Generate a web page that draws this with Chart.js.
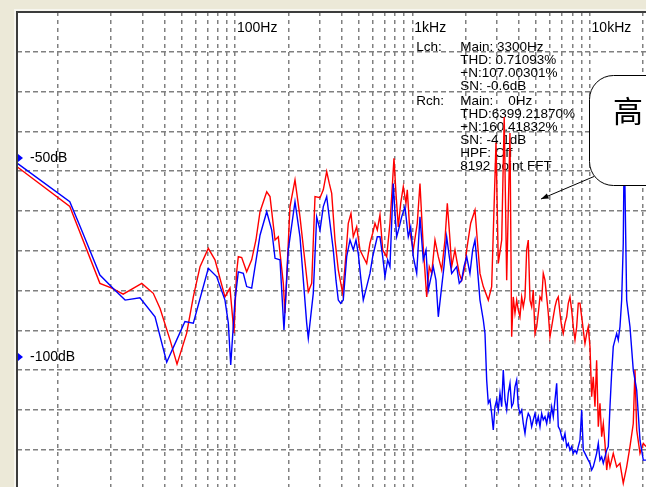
<!DOCTYPE html>
<html>
<head>
<meta charset="utf-8">
<script src="https://cdn.jsdelivr.net/npm/chart.js@4"></script>
<style>
html,body{margin:0;padding:0;background:#ECE9D8;overflow:hidden;}
canvas{display:block;}
</style>
</head>
<body>
<canvas id="c" width="646" height="487"></canvas>
<script>
// ---- data (frequency in Hz, level in dB) ----
const freqGrid = [10,20,30,40,50,60,70,80,90,100,200,300,400,500,600,700,800,900,
  1000,2000,3000,4000,5000,6000,7000,8000,9000,10000,20000];
const dbGrid = [-23.3,-33.3,-43.3,-53.3,-63.3,-73.3,-83.3,-93.3,-103.3,-113.3,-123.3];
const freqLabelValues = [100, 1000, 10000];
const freqLabelTexts = ['100Hz', '1kHz', '10kHz'];
const dbLabelValues = [-50, -100];
const dbLabelTexts = ['-50dB', '-100dB'];
const infoLeft = ['Lch:', '', '', '', 'Rch:', '', '', '', '', ''];
const infoRight = ['Main: 3300Hz', 'THD: 0.71093%', '+N:107.00301%', 'SN: -0.6dB',
  'Main:    0Hz', 'THD:6399.21870%', '+N:160.41832%', 'SN: -4.1dB', 'HPF: Off', '8192 point FFT'];
const calloutText = '高';

// Lch (red)
const lchPoints = [[5.9,-52.2],[11.7,-62.2],[17.3,-81.5],[20.2,-82.7],[23.4,-84.2],[29.8,-81.5],[34.6,-84.0],[37.8,-87.8],[43,-95.7],[47.1,-101.8],[53.4,-94.0],[58.2,-84.9],[63.5,-77.3],[70.7,-72.7],[77.1,-75.6],[87.8,-84.9],[93.7,-82.7],[98.7,-94.0],[102,-78.9],[104.4,-74.8],[109.1,-75.0],[116.4,-78.6],[124.2,-75.6],[131.3,-70.6],[138.4,-63.5],[151,-58.5],[157.6,-59.7],[168.2,-70.6],[175.5,-69.8],[187.3,-81.5],[191.4,-89.0],[204.3,-62.2],[218,-55.5],[232.6,-64.8],[259.1,-83.6],[270.8,-81.5],[282.7,-59.7],[301.7,-60.0],[314.8,-58.0],[329,-53.4],[340.3,-56.4],[351.1,-58.9],[366.4,-70.6],[382.5,-78.1],[405,-84.0],[417.3,-77.3],[435.5,-66.4],[451.1,-63.9],[464.8,-69.8],[485.7,-67.3],[507,-73.1],[529.2,-74.8],[553.1,-76.5],[577.3,-71.4],[598,-68.9],[616,-66.4],[634.8,-68.1],[657.3,-64.3],[680.9,-73.1],[717.1,-74.8],[748.3,-66.4],[765.1,-59.7],[788.3,-50.1],[809.2,-58.9],[833.8,-67.3],[860.2,-61.4],[889.7,-57.2],[921.4,-61.4],[937.1,-58.0],[970.5,-68.9],[1013,-73.1],[1067,-66.4],[1105,-56.4],[1153,-72.3],[1206,-84.9],[1247,-77.3],[1287,-79.0],[1343,-70.6],[1402,-74.8],[1465,-78.1],[1529,-70.6],[1576,-61.4],[1632,-70.6],[1668,-77.3],[1741,-73.1],[1780,-75.6],[1841,-79.0],[1899,-80.7],[1983,-77.3],[2027,-73.1],[2135,-66.4],[2258,-63.1],[2326,-70.6],[2409,-79.0],[2515,-82.3],[2684,-85.7],[2804,-82.3],[2966,-46.2],[3056,-76.5],[3194,-70.6],[3300,-39.7],[3408,-80.7],[3556,-43.7],[3636,-94.9],[3712,-84.9],[3795,-89.0],[3880,-85.7],[3962,-88.2],[4050,-89.9],[4141,-84.9],[4228,-87.4],[4322,-84.9],[4418,-73.1],[4511,-70.6],[4612,-85.7],[4714,-87.4],[4813,-83.2],[4921,-94.1],[5031,-92.4],[5137,-89.0],[5251,-84.9],[5368,-85.7],[5481,-79.0],[5604,-80.7],[5729,-84.9],[5849,-89.0],[5980,-94.9],[6113,-92.4],[6242,-89.9],[6381,-87.4],[6523,-85.7],[6660,-84.9],[6809,-89.0],[6960,-92.4],[7107,-94.1],[7265,-91.5],[7428,-89.9],[7584,-86.5],[7752,-84.9],[7925,-88.2],[8092,-92.4],[8273,-95.7],[8458,-92.4],[8636,-86.5],[8828,-86.5],[9025,-89.9],[9214,-93.2],[9420,-96.6],[9630,-94.1],[9833,-92.4],[10052,-97.4],[10276,-110.0],[10490,-105.0],[10726,-112.5],[10960,-100.8],[11200,-117.5],[11446,-111.6],[11702,-120.0],[11950,-116.7],[12214,-121.7],[12490,-128.4],[12750,-125.0],[13033,-127.6],[13604,-124.2],[14218,-127.6],[14840,-126.7],[15490,-131.7],[16190,-127.6],[16900,-122.5],[17640,-116.7],[18033,-103.3],[18440,-118.3],[19250,-124.2],[20090,-121.7],[20800,-122.5]];

// Rch (blue)
const rchPoints = [[5.9,-51.3],[11.7,-61.0],[13.4,-67.3],[17.3,-79.4],[20.5,-82.7],[24.0,-85.7],[29.1,-85.1],[35.4,-89.9],[41.2,-101.3],[46.9,-95.7],[52.2,-91.1],[58.2,-91.5],[70.7,-77.7],[78.8,-79.8],[87.8,-85.7],[91.7,-91.5],[94.6,-102.0],[100,-85.7],[104.4,-78.6],[111.4,-79.0],[116.4,-82.3],[124.2,-82.7],[138.4,-69.4],[151,-63.5],[161.1,-68.1],[168.2,-75.2],[179.4,-75.6],[188.9,-93.2],[199.8,-73.1],[218,-61.0],[232.6,-69.8],[253.7,-91.5],[259.1,-95.3],[276.4,-84.0],[288.9,-64.8],[301.7,-68.1],[314.8,-62.2],[329,-59.7],[343.4,-66.4],[358.4,-73.1],[371.2,-80.7],[382.5,-85.7],[394.6,-86.5],[408,-85.7],[426.6,-74.8],[445.3,-70.6],[464.8,-73.1],[481.3,-70.6],[495.9,-74.0],[513.7,-80.7],[529.2,-85.7],[553.1,-82.3],[577.3,-79.0],[598,-74.8],[616,-72.3],[634.8,-69.8],[657.3,-69.8],[680.9,-74.8],[701.5,-79.8],[726.5,-75.6],[748.3,-77.3],[765.1,-66.4],[781,-56.4],[798.8,-63.9],[816.6,-69.8],[844.7,-67.3],[871.2,-64.8],[909.4,-62.2],[949.3,-69.8],[979.4,-67.3],[1013,-74.8],[1059,-79.0],[1105,-64.8],[1153,-75.6],[1195,-73.1],[1231,-83.2],[1313,-77.3],[1360,-80.7],[1402,-89.9],[1465,-82.3],[1509,-77.3],[1563,-69.8],[1617,-74.8],[1668,-79.0],[1780,-77.3],[1841,-81.5],[1899,-80.7],[1957,-77.3],[2027,-74.8],[2115,-79.0],[2191,-73.1],[2258,-70.6],[2326,-77.3],[2409,-85.7],[2515,-90.7],[2571,-94.1],[2628,-105.8],[2683,-111.6],[2743,-110.8],[2804,-114.2],[2863,-118.3],[2927,-112.5],[2993,-110.8],[3055,-113.3],[3124,-109.1],[3193,-112.5],[3260,-103.3],[3333,-110.8],[3408,-113.3],[3479,-109.1],[3557,-106.6],[3636,-112.5],[3712,-111.6],[3795,-107.5],[3880,-105.8],[3962,-112.5],[4050,-114.2],[4141,-113.3],[4228,-116.7],[4322,-119.2],[4418,-115.8],[4511,-114.2],[4612,-115.0],[4714,-117.5],[4813,-115.8],[4921,-114.2],[5031,-116.7],[5137,-115.0],[5251,-117.5],[5368,-114.2],[5481,-115.8],[5604,-115.0],[5729,-116.7],[5849,-114.2],[5980,-115.8],[6113,-112.5],[6242,-115.0],[6381,-110.8],[6523,-106.6],[6660,-117.5],[6809,-118.3],[6960,-120.0],[7107,-120.9],[7265,-119.2],[7428,-122.5],[7584,-121.7],[7752,-123.4],[7925,-122.5],[8092,-124.2],[8273,-123.4],[8458,-124.2],[8636,-122.5],[8828,-120.9],[9025,-113.3],[9214,-123.4],[9420,-124.2],[9630,-125.1],[9833,-125.9],[10052,-126.7],[10276,-128.4],[10490,-127.6],[10726,-125.9],[10960,-124.2],[11200,-121.7],[11446,-125.9],[11702,-125.1],[11950,-126.7],[12214,-125.1],[12490,-123.4],[12750,-122.5],[13033,-112.5],[13320,-104.1],[13604,-97.4],[13910,-95.7],[14218,-94.1],[14516,-95.7],[14840,-92.4],[15172,-85.7],[15490,-71.4],[15690,-45.5],[16190,-85.7],[16900,-92.4],[17640,-103.3],[18440,-108.3],[19250,-120.9],[20090,-125.9],[20800,-125.9]];

const toXY = pts => pts.map(p => ({x: p[0], y: p[1]}));

const FONT = '"Liberation Sans", Arial, sans-serif';

const decorPlugin = {
  id: 'decor',
  beforeDraw(chart) {
    const ctx = chart.ctx, a = chart.chartArea;
    ctx.save();
    ctx.fillStyle = '#ECE9D8';
    ctx.fillRect(0, 0, chart.width, chart.height);
    ctx.fillStyle = '#F7F6EF';
    ctx.fillRect(a.left - 3, a.top - 3, chart.width, chart.height);
    ctx.fillStyle = '#ffffff';
    ctx.fillRect(a.left, a.top, a.right - a.left, a.bottom - a.top);
    ctx.restore();
  },
  beforeDatasetsDraw(chart) {
    const ctx = chart.ctx, xs = chart.scales.x, ys = chart.scales.y;
    ctx.save();
    ctx.fillStyle = '#000';
    ctx.textBaseline = 'middle';
    ctx.font = '14px ' + FONT;
    freqLabelValues.forEach((f, i) => {
      ctx.fillText(freqLabelTexts[i], xs.getPixelForValue(f) + 2, 28);
    });
    dbLabelValues.forEach((d, i) => {
      const y = ys.getPixelForValue(d);
      ctx.fillStyle = '#0000ff';
      ctx.beginPath();
      ctx.moveTo(18, y - 4); ctx.lineTo(23, y); ctx.lineTo(18, y + 4); ctx.closePath();
      ctx.fill();
      ctx.fillStyle = '#000';
      ctx.fillText(dbLabelTexts[i], 30, y);
    });
    ctx.font = '13.5px ' + FONT;
    const x0 = xs.getPixelForValue(1000);
    const lineY = [47, 60, 73, 86, 101, 114, 127, 140, 153, 166];
    infoRight.forEach((t, i) => {
      if (infoLeft[i]) ctx.fillText(infoLeft[i], x0 + 4, lineY[i]);
      ctx.fillText(t, x0 + 48, lineY[i]);
    });
    ctx.restore();
  },
  afterDraw(chart) {
    const ctx = chart.ctx, a = chart.chartArea;
    ctx.save();
    // frame
    ctx.fillStyle = '#3c3c3c';
    ctx.fillRect(a.left - 1, a.top - 1, chart.width, 2);
    ctx.fillRect(a.left - 1, a.top - 1, 2, chart.height);
    // callout arrow
    ctx.strokeStyle = '#000';
    ctx.lineWidth = 1;
    ctx.beginPath();
    ctx.moveTo(594, 176.5); ctx.lineTo(541, 199);
    ctx.stroke();
    ctx.fillStyle = '#000';
    const ang = Math.atan2(199 - 176.5, 541 - 594);
    ctx.beginPath();
    ctx.moveTo(541, 199);
    ctx.lineTo(541 - 8 * Math.cos(ang - 0.35), 199 - 8 * Math.sin(ang - 0.35));
    ctx.lineTo(541 - 8 * Math.cos(ang + 0.35), 199 - 8 * Math.sin(ang + 0.35));
    ctx.closePath();
    ctx.fill();
    // callout box
    const bx = 589.5, by = 75.5, bw = 120, bh = 110, r = 24;
    ctx.beginPath();
    ctx.moveTo(bx + r, by);
    ctx.lineTo(bx + bw - r, by);
    ctx.arcTo(bx + bw, by, bx + bw, by + r, r);
    ctx.lineTo(bx + bw, by + bh - r);
    ctx.arcTo(bx + bw, by + bh, bx + bw - r, by + bh, r);
    ctx.lineTo(bx + r, by + bh);
    ctx.arcTo(bx, by + bh, bx, by + bh - r, r);
    ctx.lineTo(bx, by + r);
    ctx.arcTo(bx, by, bx + r, by, r);
    ctx.closePath();
    ctx.fillStyle = '#fff';
    ctx.fill();
    ctx.stroke();
    ctx.fillStyle = '#000';
    ctx.font = '30px "Noto Sans CJK SC", sans-serif';
    ctx.textBaseline = 'middle';
    ctx.textAlign = 'center';
    ctx.fillText(calloutText, 628, 111);
    ctx.restore();
  }
};

new Chart(document.getElementById('c'), {
  type: 'line',
  data: {
    datasets: [
      { label: 'Rch', data: toXY(rchPoints), borderColor: '#0000ff', borderWidth: 1.4,
        pointRadius: 0, tension: 0, fill: false },
      { label: 'Lch', data: toXY(lchPoints), borderColor: '#ff0000', borderWidth: 1.4,
        pointRadius: 0, tension: 0, fill: false }
    ]
  },
  options: {
    responsive: false,
    animation: false,
    devicePixelRatio: 1,
    events: [],
    layout: { padding: { left: 17, top: 12, right: 0, bottom: 0 } },
    plugins: { legend: { display: false }, tooltip: { enabled: false } },
    scales: {
      x: {
        type: 'logarithmic', min: 5.894, max: 20810,
        afterBuildTicks: s => { s.ticks = freqGrid.map(v => ({ value: v })); },
        afterFit: s => { s.height = 0; },
        ticks: { display: false },
        grid: { color: '#808080', lineWidth: 1.5, drawTicks: false },
        border: { display: false, dash: [4, 4] }
      },
      y: {
        type: 'linear', min: -132.66, max: -13.32,
        afterBuildTicks: s => { s.ticks = dbGrid.map(v => ({ value: v })); },
        afterFit: s => { s.width = 0; },
        ticks: { display: false },
        grid: { color: '#808080', lineWidth: 1.5, drawTicks: false },
        border: { display: false, dash: [5, 3] }
      }
    }
  },
  plugins: [decorPlugin]
});
</script>
</body>
</html>
